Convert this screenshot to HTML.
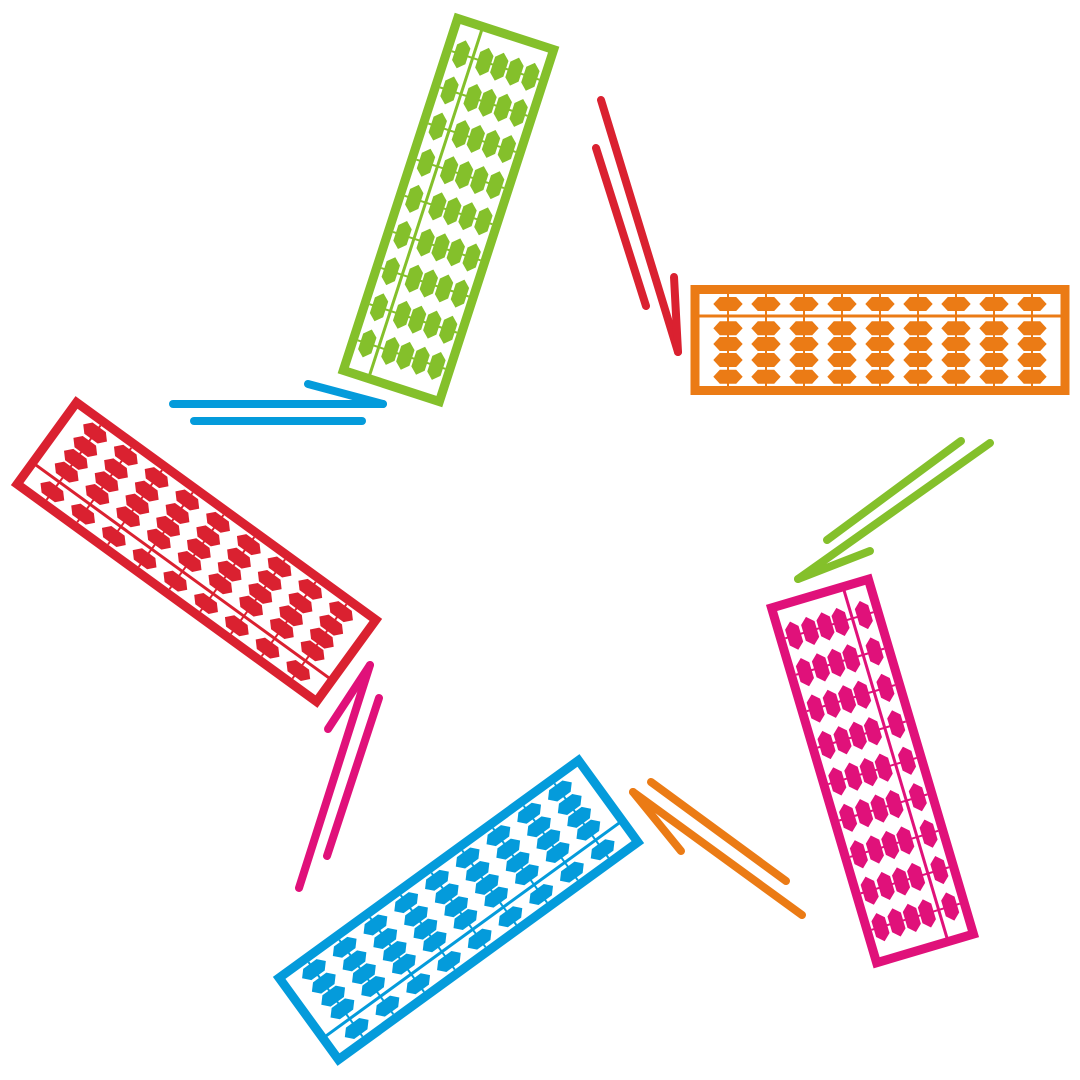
<!DOCTYPE html>
<html><head><meta charset="utf-8"><style>html,body{margin:0;padding:0;background:#fff}svg{display:block}</style></head>
<body>
<svg width="1080" height="1080" viewBox="0 0 1080 1080" xmlns="http://www.w3.org/2000/svg">
<defs>
<polygon id="b" points="-14,0 -8,-6.5 8,-6.5 14,0 8,6.5 -8,6.5"/>
<g id="col">
<line x1="0" y1="-46" x2="0" y2="46" stroke-width="2"/>
<use href="#b" y="-36"/>
<use href="#b" y="-11.7"/>
<use href="#b" y="4"/>
<use href="#b" y="20"/>
<use href="#b" y="36.7"/>
</g>
<g id="ab">
<use href="#col" x="-152"/><use href="#col" x="-114"/><use href="#col" x="-76"/>
<use href="#col" x="-38"/><use href="#col" x="0"/><use href="#col" x="38"/>
<use href="#col" x="76"/><use href="#col" x="114"/><use href="#col" x="152"/>
<line x1="-181" y1="-24" x2="181" y2="-24" stroke-width="3"/>
<rect x="-185" y="-50.5" width="370" height="101" fill="none" stroke-width="9"/>
</g>
</defs>
<g fill="#EB7B15" stroke="#EB7B15" transform="translate(880,340)"><use href="#ab"/></g>
<g fill="#84C02B" stroke="#84C02B" transform="translate(448.5,210) rotate(-72)"><use href="#ab"/></g>
<g fill="#DA2130" stroke="#DA2130" transform="translate(196.5,552) rotate(-144)"><use href="#ab"/></g>
<g fill="#049BDB" stroke="#049BDB" transform="translate(458.5,910) rotate(144)"><use href="#ab"/></g>
<g fill="#E0117A" stroke="#E0117A" transform="translate(872.5,771) rotate(73.5)"><use href="#ab"/></g>

<g fill="none" stroke-width="8" stroke-linecap="round" stroke-linejoin="round">
<g stroke="#DA2130">
<line x1="601" y1="100" x2="678" y2="352"/>
<line x1="596" y1="148" x2="646" y2="306"/>
<line x1="674" y1="277" x2="678" y2="352"/>
</g>
<g stroke="#84C02B">
<line x1="961" y1="441" x2="827" y2="540"/>
<line x1="990" y1="443" x2="798" y2="579"/>
<line x1="870" y1="551" x2="798" y2="579"/>
</g>
<g stroke="#EB7B15">
<line x1="651" y1="782" x2="786" y2="881"/>
<line x1="633" y1="792" x2="802" y2="915"/>
<line x1="633" y1="792" x2="681" y2="851"/>
</g>
<g stroke="#E0117A">
<line x1="370" y1="665" x2="299" y2="888"/>
<line x1="379" y1="698" x2="327" y2="856"/>
<line x1="370" y1="665" x2="328" y2="729"/>
</g>
<g stroke="#049BDB">
<line x1="173" y1="404" x2="383" y2="404"/>
<line x1="194" y1="421" x2="362" y2="421"/>
<line x1="308" y1="384" x2="383" y2="404"/>
</g>
</g>
</svg>
</body></html>
